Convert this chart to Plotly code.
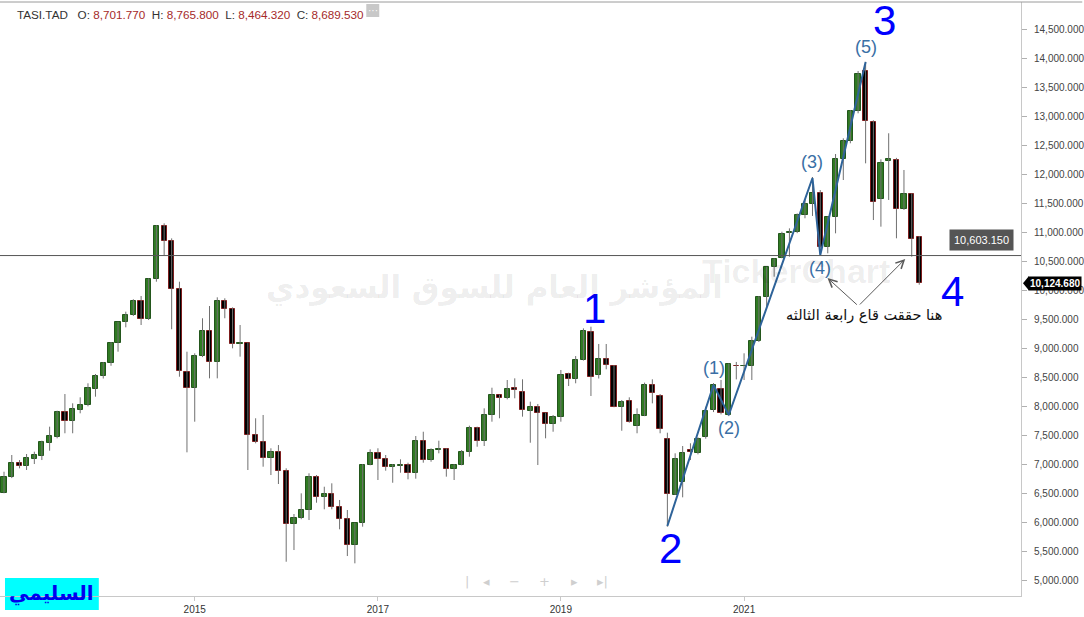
import plotly.graph_objects as go
import pandas as pd

# ---------------- data (monthly TASI candles, Dec 2012 .. Dec 2022) ----------------
months = pd.date_range("2012-12-01", "2022-12-01", freq="MS")

open_ = [6508, 6774, 7015, 6974, 7095, 7147, 7371, 7464, 7896, 7741, 7941, 8017, 8305,
         8523, 8743, 9088, 9451, 9577, 9818, 9508, 10193, 11114, 10850, 10020, 8587,
         8311, 8868, 9300, 8760, 9818, 9680, 9070, 9088, 7499, 7378, 7102, 7216,
         6888, 5962, 6066, 6209, 6774, 6428, 6480, 6266, 6048, 5599, 5979, 6981,
         7188, 7084, 6946, 6975, 6981, 6843, 7395, 7067, 7245, 7257, 6912, 6981,
         7205, 7620, 7395, 7844, 8190, 8138, 8311, 8252, 7925, 7983, 7879, 7689,
         7810, 8553, 8477, 8800, 9277, 8540, 8812, 8696, 7994, 8086, 7665, 7837,
         8362, 8172, 7430, 6468, 6687, 7245, 7188, 7464, 7936, 8293, 7850, 8701.77,
         8689, 8703, 9133, 9893, 10400, 10556, 10987, 11015, 11304, 11494, 11689, 10757,
         11265, 12266, 12588, 13100, 13790, 12904, 11575, 12230, 12254, 11402, 11666, 10918]
high = [6870, 7159, 7072, 7176, 7216, 7406, 7648, 7924, 8212, 8052, 8155, 8397, 8558,
        8765, 9110, 9461, 9634, 9848, 9905, 10210, 11130, 11160, 10900, 10152, 8943,
        8915, 9520, 9732, 9882, 9865, 9709, 9404, 9100, 7793, 7850, 7275, 7331,
        6929, 6140, 6497, 6843, 6813, 6611, 6670, 6382, 6209, 5990, 7003, 7257,
        7275, 7159, 7003, 7084, 7026, 7487, 7561, 7275, 7406, 7275, 7003, 7245,
        7665, 7648, 7965, 8321, 8200, 8454, 8483, 8466, 8080, 8040, 7890, 7850,
        8627, 8580, 8868, 9346, 9375, 9076, 9076, 8713, 8109, 8155, 7965, 8409,
        8466, 8212, 7544, 7188, 7314, 7361, 7465, 7993, 8400, 8454, 8740, 8765.80,
        8915, 9202, 9905, 10410, 10556, 11015, 11073, 11330, 11575, 11960, 11735, 11280,
        12357, 12628, 13117, 13790, 13949, 12940, 12265, 12715, 12290, 12081, 11678, 10941]
low = [6498, 6760, 6929, 6900, 7003, 7072, 7233, 7447, 7534, 7534, 7879, 8000, 8166,
       8480, 8700, 8943, 9364, 9560, 9404, 9490, 10152, 10613, 9330, 8511, 7205,
       7734, 8850, 8483, 8483, 9520, 9001, 8857, 6900, 7361, 6957, 6813, 6658,
       5316, 5518, 6050, 6036, 6335, 6221, 6221, 5876, 5414, 5288, 5921, 6981,
       6727, 6888, 6680, 6853, 6739, 6750, 7026, 7043, 7188, 6785, 6727, 6981,
       7130, 7302, 7314, 7734, 7793, 8120, 8138, 7821, 7371, 6986, 7447, 7561,
       7734, 8350, 8397, 8790, 8178, 8480, 8639, 7983, 7578, 7717, 7534, 7830,
       8051, 7534, 5921, 6468, 6428, 7072, 7170, 7440, 7900, 7860, 7830, 8464.32,
       8454, 8454, 9110, 9720, 10238, 10556, 10584, 10990, 11247, 11287, 10729, 10642,
       10987, 11908, 12542, 13060, 12196, 11217, 11102, 11563, 10901, 11390, 10584, 10100]
close = [6774, 7015, 6974, 7102, 7153, 7378, 7487, 7896, 7741, 7948, 8017, 8311, 8523,
         8743, 9088, 9451, 9577, 9818, 9508, 10193, 11114, 10850, 10020, 8604, 8311,
         8868, 9300, 8760, 9818, 9680, 9070, 9090, 7499, 7378, 7102, 7216, 6888,
         5962, 6066, 6209, 6774, 6428, 6480, 6266, 6048, 5599, 5979, 6986, 7188,
         7084, 6946, 6981, 6995, 6843, 7395, 7067, 7245, 7257, 6912, 6981, 7205,
         7620, 7395, 7844, 8190, 8138, 8293, 8281, 7936, 7983, 7879, 7689, 7810,
         8540, 8466, 8800, 9300, 8500, 8812, 8713, 7994, 8080, 7724, 7850, 8362,
         8225, 7608, 6480, 7084, 7188, 7216, 7430, 7919, 8368, 7879, 8725, 8689.53,
         8703, 9128, 9893, 10400, 10539, 10970, 11015, 11304, 11494, 11689, 10757, 11265,
         12266, 12588, 13100, 13739, 12927, 11522, 12196, 12278, 11402, 11666, 10883, 10124.68]

# Elliott wave path and labels
wave_dates = ["2020-03-01", "2020-09-01", "2020-11-01", "2021-10-01", "2021-11-01", "2022-05-01"]
wave_values = [5933, 8368, 7850, 11942, 10613, 13946]
wave_labels = ["", "(1)", "(2)", "(3)", "(4)", "(5)"]

degree_labels = ["1", "2", "3", "4"]
degree_dates = ["2019-05-01", "2020-03-01", "2022-05-01", "2022-12-01"]
degree_values = [9375, 5921, 13949, 10100]

level_value = 10603.15
last_value = close[-1]

y_ticks = list(range(5000, 15000, 500))
x_tick_dates = ["2015-01-01", "2017-01-01", "2019-01-01", "2021-01-01"]
x_tick_text = ["2015", "2017", "2019", "2021"]

header_ohlc = ["8,701.770", "8,765.800", "8,464.320", "8,689.530"]

# ---------------- styles ----------------
UP_FILL, UP_LINE = "#2f7a22", "#23561c"
DN_FILL, DN_LINE = "#000000", "#7d1d1d"
WICK = "#707070"
WAVE = "#2e6399"
WAVE_TXT = "#3a6fa5"
BLUE = "#0000ff"
PW, PH, PB = 1023.0, 594.0, 596.0   # plot width, plot height, plot bottom (px)


def px(x):
    return x / PW


def py(y):
    return (PB - y) / PH


fig = go.Figure()

# wicks
wx, wy = [], []
for d, h, l in zip(months, high, low):
    wx += [d, d, None]
    wy += [l, h, None]
fig.add_trace(go.Scatter(x=wx, y=wy, mode="lines", line=dict(color=WICK, width=1),
                         hoverinfo="skip", showlegend=False))

# bodies
is_up = [c >= o for o, c in zip(open_, close)]
fig.add_trace(go.Bar(
    x=months,
    y=[max(abs(c - o), 8) for o, c in zip(open_, close)],
    base=[min(o, c) for o, c in zip(open_, close)],
    width=[21 * 86400000] * len(months),
    marker=dict(color=[UP_FILL if u else DN_FILL for u in is_up],
                line=dict(color=[UP_LINE if u else DN_LINE for u in is_up], width=1)),
    hoverinfo="skip", showlegend=False))

# wave lines
fig.add_trace(go.Scatter(x=wave_dates, y=wave_values, mode="lines",
                         line=dict(color=WAVE, width=2), hoverinfo="skip", showlegend=False))

annotations = []


def note(x, y, text, size, color, family="Liberation Sans, Arial", xanchor="center", **kw):
    d = dict(x=x, y=y, xref="paper", yref="paper", text=text, showarrow=False,
             xanchor=xanchor, yanchor="middle",
             font=dict(family=family, size=size, color=color))
    d.update(kw)
    annotations.append(d)


# wave labels
wave_shift = [0, 17, -13, 16, -13, 15]
for d, v, t, s in zip(wave_dates, wave_values, wave_labels, wave_shift):
    if t:
        annotations.append(dict(x=d, y=v, text=t, showarrow=False, yshift=s,
                                xanchor="center", yanchor="middle",
                                font=dict(family="Liberation Sans, Arial", size=18, color=WAVE_TXT)))
# degree labels
deg_shift = [(4, 18), (3, -22), (19, 41), (33, -7)]
for d, v, t, (xs, ys) in zip(degree_dates, degree_values, degree_labels, deg_shift):
    annotations.append(dict(x=d, y=v, text=t, showarrow=False, xshift=xs, yshift=ys,
                            xanchor="center", yanchor="middle",
                            font=dict(family="Liberation Sans, Arial", size=42, color=BLUE)))

# watermark
note(px(495), py(287), "<b>المؤشر العام للسوق السعودي</b>", 31, "rgba(0,0,0,0.085)",
     family="DejaVu Sans")
note(px(798), py(271), "<b>TickerChart</b>", 34, "rgba(0,0,0,0.07)")

# comment and arrows
note(px(866), py(316), "هنا حققت قاع رابعة الثالثه", 14.5, "#111111", family="DejaVu Sans")
for hx, hy in [("2021-11-30", 10216), ("2022-10-06", 10544)]:
    annotations.append(dict(x=hx, y=hy, ax="2022-04-02", ay=9732, axref="x", ayref="y",
                            text="", showarrow=True, arrowhead=5, arrowsize=1.6,
                            arrowwidth=1, arrowcolor="#5a5a5a"))

# level badge
note(px(983.5), py(239.5), f"{level_value:,.3f}", 11, "white", bgcolor="#555555", borderpad=4)
# last price badge on axis
annotations.append(dict(x=px(1030), y=last_value, xref="paper", yref="y", xanchor="left",
                        yanchor="middle", text=f"<b>{last_value:,.3f}</b>", showarrow=False,
                        bgcolor="#000000", borderpad=1,
                        font=dict(family="Liberation Sans, Arial", size=10, color="white")))
# partially visible top tick
annotations.append(dict(x=1, y=15000, xref="paper", yref="y", xanchor="left", yanchor="middle",
                        xshift=10, text="15,000.000", showarrow=False,
                        font=dict(family="Liberation Sans, Arial", size=10, color="#444444")))

# header
hdr = ("TASI.TAD&nbsp;&nbsp;&nbsp;"
       + "&nbsp;&nbsp;".join(f"{k}: <span style='color:#a52a2a'>{v}</span>"
                             for k, v in zip(["O", "H", "L", "C"], header_ohlc)))
note(px(15), py(14), hdr, 11.7, "#333333", xanchor="left")
note(px(373.5), py(10), "···", 10, "white")

# signature
note(px(52), py(593), "<b>السليمي</b>", 20, "#0000ee", family="DejaVu Sans")

# nav controls
for xx, sym in [(468, "|"), (487, "◂"), (516, "−"), (546, "+"), (576, "▸"), (604, "▸|")]:
    note(px(xx), py(581), sym, 13, "#cfcfcf", family="DejaVu Sans")

shapes = [
    dict(type="line", xref="paper", yref="y", x0=0, x1=1, y0=level_value, y1=level_value,
         line=dict(color="#555555", width=1)),
    dict(type="line", xref="paper", yref="paper", x0=0, x1=1.06, y0=1.0, y1=1.0,
         line=dict(color="#9a9a9a", width=1)),
    dict(type="rect", xref="paper", yref="paper", x0=px(367), x1=px(380),
         y0=py(17), y1=py(4), fillcolor="#c8c8c8", line=dict(width=0)),
    dict(type="rect", xref="paper", yref="paper", x0=px(5), x1=px(99),
         y0=py(610), y1=py(578), fillcolor="#00ffff", line=dict(width=0), layer="below"),
    dict(type="path", xref="paper", yref="y",
         path=f"M {px(1025)},{last_value} L {px(1031)},{last_value+125} L {px(1031)},{last_value-125} Z",
         fillcolor="#000000", line=dict(width=0)),
]

fig.update_layout(
    width=1084, height=617,
    margin=dict(l=0, r=61, t=2, b=21),
    paper_bgcolor="white", plot_bgcolor="white",
    showlegend=False, bargap=0,
    annotations=annotations, shapes=shapes,
    xaxis=dict(type="date", range=["2012-11-15", "2024-01-11"], showgrid=False, zeroline=False,
               showline=True, linecolor="#c8c8c8", ticks="outside", ticklen=4, tickcolor="#c8c8c8",
               tickvals=x_tick_dates, ticktext=x_tick_text,
               tickfont=dict(family="Liberation Sans, Arial", size=10, color="#333333")),
    yaxis=dict(side="right", range=[4724, 14982], showgrid=False, zeroline=False,
               showline=True, linecolor="#c8c8c8", ticks="outside", ticklen=5, tickcolor="#b0b0b0",
               tickvals=y_ticks, ticktext=[f"{v:,.3f}" for v in y_ticks], ticklabelstandoff=5,
               tickfont=dict(family="Liberation Sans, Arial", size=10, color="#444444")),
)

fig.write_html("out.html", config={"displayModeBar": False},
               post_script="document.body.style.margin='0px';")
